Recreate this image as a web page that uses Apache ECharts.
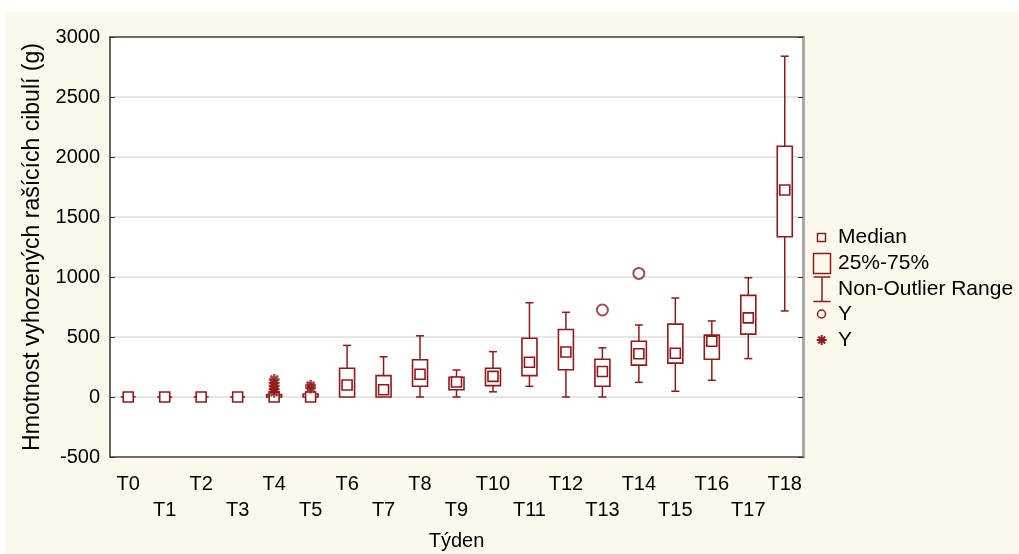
<!DOCTYPE html>
<html>
<head>
<meta charset="utf-8">
<script src="https://cdn.jsdelivr.net/npm/echarts@6.0.0/dist/echarts.min.js"></script>
<style>
  html, body { margin: 0; padding: 0; background: #ffffff; }
  #main { position: absolute; left: 5px; top: 12px; width: 1014px; height: 542px; }
</style>
</head>
<body>
<div id="main"></div>
<script>
// tydny
var categories = ['T0','T1','T2','T3','T4','T5','T6','T7','T8','T9','T10','T11','T12','T13','T14','T15','T16','T17','T18'];

// non-outlier range + kvartily + median (g)
var minVals = [0, 0, 0, 0, 0, 0, 0, 0, 0, 0, 43, 89, 0, 0, 122, 48, 139, 320, 717];
var q1Vals  = [0, 0, 0, 0, 0, 0, 0, 0, 90, 60, 95, 178, 227, 90, 266, 282, 315, 524, 1336];
var medVals = [0, 0, 0, 0, 0, 0, 100, 60, 190, 125, 172, 290, 375, 213, 360, 365, 464, 659, 1725];
var q3Vals  = [0, 0, 0, 0, 20, 25, 240, 178, 310, 165, 240, 490, 563, 315, 464, 607, 516, 847, 2090];
var maxVals = [0, 0, 0, 0, 20, 25, 430, 335, 510, 225, 378, 785, 706, 410, 600, 825, 634, 994, 2840];

// odlehle hodnoty (kolecko) a extremy (hvezdicka)
var outliers = [['T13', 725], ['T14', 1030]];
var extremes = [['T4', 40], ['T4', 65], ['T4', 90], ['T4', 115], ['T4', 145], ['T5', 75], ['T5', 95]];

var yTicks = { min: -500, max: 3000, step: 500 };

var RED = '#8e1b1b';
var FONT = '"Liberation Sans", Arial, sans-serif';
var STAR = 'path://M5,0 L5,10 M0,5 L10,5 M1.5,1.5 L8.5,8.5 M1.5,8.5 L8.5,1.5';

var boxData = categories.map(function (c, i) {
    return [i, minVals[i], q1Vals[i], medVals[i], q3Vals[i], maxVals[i]];
});

function renderBox(params, api) {
    var idx = api.value(0);
    var x = api.coord([idx, 0])[0];
    var yMin = api.coord([idx, api.value(1)])[1];
    var yQ1 = api.coord([idx, api.value(2)])[1];
    var yMed = api.coord([idx, api.value(3)])[1];
    var yQ3 = api.coord([idx, api.value(4)])[1];
    var yMax = api.coord([idx, api.value(5)])[1];
    var lineStyle = { stroke: RED, lineWidth: 1.5 };
    var kids = [];
    if (api.value(5) > api.value(4)) {
        kids.push({ type: 'line', shape: { x1: x, y1: yMax, x2: x, y2: yQ3 }, style: lineStyle });
        kids.push({ type: 'line', shape: { x1: x - 4, y1: yMax, x2: x + 4, y2: yMax }, style: lineStyle });
    }
    if (api.value(1) < api.value(2)) {
        kids.push({ type: 'line', shape: { x1: x, y1: yQ1, x2: x, y2: yMin }, style: lineStyle });
        kids.push({ type: 'line', shape: { x1: x - 4, y1: yMin, x2: x + 4, y2: yMin }, style: lineStyle });
    }
    kids.push({ type: 'rect', shape: { x: x - 7.5, y: yQ3, width: 15, height: yQ1 - yQ3 },
        style: { fill: '#fff', stroke: RED, lineWidth: 1.6 } });
    kids.push({ type: 'rect', shape: { x: x - 5, y: yMed - 5, width: 10, height: 10 },
        style: { fill: '#fff', stroke: RED, lineWidth: 1.6 } });
    return { type: 'group', children: kids };
}

function legendLine(x1, y1, x2, y2, w) {
    return { type: 'line', shape: { x1: x1, y1: y1, x2: x2, y2: y2 }, style: { stroke: RED, lineWidth: w || 1.5 } };
}
function legendText(y, txt) {
    return { type: 'text', x: 833, y: y, style: { text: txt, font: '21px ' + FONT, fill: '#000', verticalAlign: 'middle' } };
}

var chart = echarts.init(document.getElementById('main'));
var option = {
    backgroundColor: '#fdf8ec',
    animation: false,
    textStyle: { fontFamily: FONT },
    grid: { left: 105, top: 25, width: 693, height: 420, show: true, backgroundColor: '#ffffff',
        borderWidth: 0, outerBoundsMode: 'none', containLabel: false },
    xAxis: [{
        type: 'category',
        data: categories,
        position: 'bottom',
        name: 'Týden',
        nameLocation: 'middle',
        nameGap: 74,
        nameTextStyle: { fontSize: 20, color: '#000', fontFamily: FONT },
        axisLine: { onZero: false, lineStyle: { color: '#444', width: 1.5 } },
        axisTick: { inside: true, length: 5, alignWithLabel: true, lineStyle: { color: '#444' } },
        axisLabel: { interval: 0, fontSize: 20, color: '#000', margin: 14, lineHeight: 26,
            formatter: function (v, i) { return i % 2 ? '\n' + v : v; } },
        splitLine: { show: false }
    }, {
        type: 'category',
        data: categories,
        position: 'top',
        axisLine: { onZero: false, lineStyle: { color: '#444', width: 1.5 } },
        axisTick: { inside: true, length: 5, alignWithLabel: true, lineStyle: { color: '#444' } },
        axisLabel: { show: false },
        splitLine: { show: false }
    }],
    yAxis: [{
        type: 'value',
        min: yTicks.min, max: yTicks.max, interval: yTicks.step,
        name: 'Hmotnost vyhozených rašících cibulí (g)',
        nameLocation: 'middle',
        nameGap: 66,
        nameTextStyle: { fontSize: 23, color: '#000', fontFamily: FONT },
        axisLine: { show: true, onZero: false, lineStyle: { color: '#333', width: 1.5 } },
        axisTick: { show: true, inside: true, length: 5, lineStyle: { color: '#333' } },
        axisLabel: { fontSize: 20, color: '#000', margin: 10, formatter: function (v) { return String(v); } },
        splitLine: { show: true, lineStyle: { color: '#dedede', width: 1.5 } }
    }, {
        type: 'value',
        position: 'right',
        min: yTicks.min, max: yTicks.max, interval: yTicks.step,
        axisLine: { show: true, onZero: false, lineStyle: { color: '#aaaaaa', width: 3 } },
        axisTick: { show: true, inside: true, length: 5, lineStyle: { color: '#333' } },
        axisLabel: { show: false },
        splitLine: { show: false }
    }],
    series: [{
        name: 'boxes',
        type: 'custom',
        renderItem: renderBox,
        encode: { x: 0, y: [1, 2, 3, 4, 5] },
        data: boxData,
        z: 3
    }, {
        name: 'Y',
        type: 'scatter',
        symbol: 'emptyCircle',
        symbolSize: 11,
        itemStyle: { color: RED, borderColor: RED, borderWidth: 1.5 },
        data: outliers,
        z: 4
    }, {
        name: 'Y ',
        type: 'scatter',
        symbol: STAR,
        symbolSize: 11,
        itemStyle: { color: RED, borderColor: RED, borderWidth: 2.5 },
        data: extremes,
        z: 4
    }],
    graphic: [
        { type: 'rect', shape: { x: 812.5, y: 221.5, width: 8, height: 8 }, style: { fill: 'none', stroke: RED, lineWidth: 1.5 } },
        { type: 'rect', shape: { x: 808.5, y: 241.5, width: 17, height: 20 }, style: { fill: 'none', stroke: RED, lineWidth: 1.5 } },
        legendLine(808.5, 265, 825.5, 265),
        legendLine(817, 265, 817, 289.5),
        legendLine(808.5, 289.5, 825.5, 289.5),
        { type: 'circle', shape: { cx: 816.5, cy: 302, r: 4 }, style: { fill: 'none', stroke: RED, lineWidth: 1.5 } },
        legendLine(816.7, 323, 816.7, 333, 2),
        legendLine(811.7, 328, 821.7, 328, 2),
        legendLine(813.2, 324.5, 820.2, 331.5, 2),
        legendLine(813.2, 331.5, 820.2, 324.5, 2),
        legendText(225, 'Median'),
        legendText(251, '25%-75%'),
        legendText(277, 'Non-Outlier Range'),
        legendText(302, 'Y'),
        legendText(328, 'Y')
    ]
};
chart.setOption(option);
</script>
</body>
</html>
